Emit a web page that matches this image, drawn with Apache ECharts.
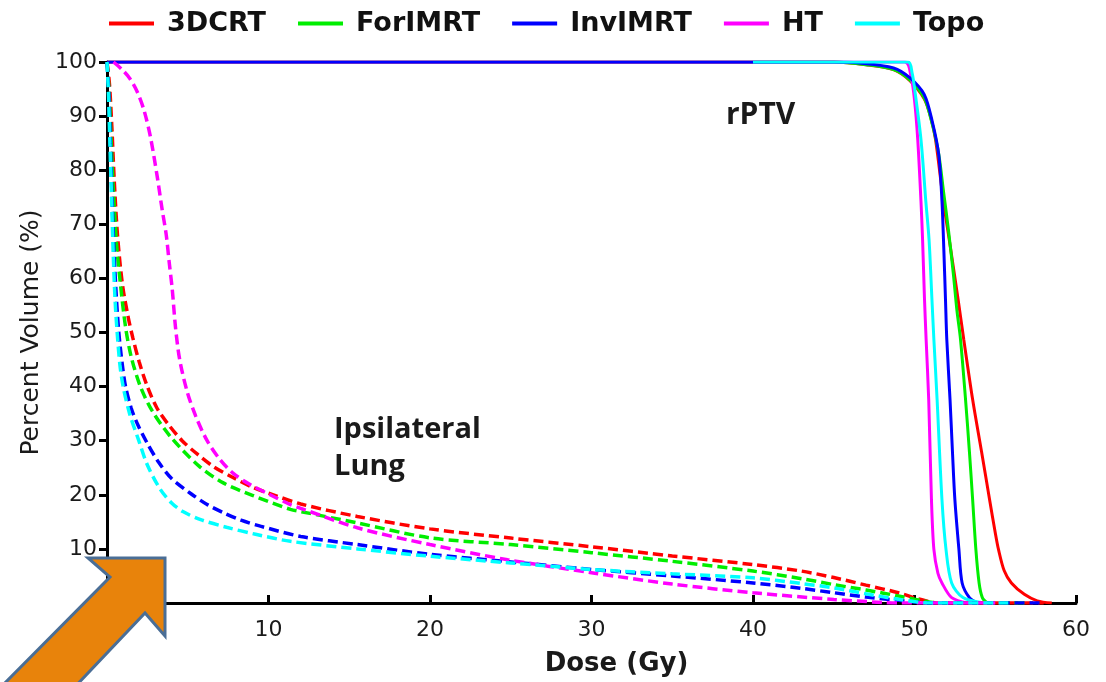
<!DOCTYPE html>
<html>
<head>
<meta charset="utf-8">
<script src="https://cdn.jsdelivr.net/npm/echarts@6/dist/echarts.min.js"></script>
<style>
  html, body { margin: 0; padding: 0; background: #ffffff; }
  #chart { width: 1106px; height: 682px; }
</style>
</head>
<body>
<div id="chart"></div>
<script>
// Treatment plans and their line colours
const plans = ['3DCRT', 'ForIMRT', 'InvIMRT', 'HT', 'Topo'];
const planColors = ['#ff0000', '#00ee00', '#0000ff', '#ff00ff', '#00ffff'];

// Axis ticks
const doseTicks = [0, 10, 20, 30, 40, 50, 60];
const volumeTicks = [0, 10, 20, 30, 40, 50, 60, 70, 80, 90, 100];

// Cumulative DVH of the rPTV: [dose (Gy), volume (%)]
const ptv3DCRT = [[0, 100], [45, 100], [47, 99.5], [48.7, 98.6], [49.7, 96.6], [50.6, 93.2], [51.0, 89.8],
  [51.3, 85.7], [51.8, 74], [52.15, 67.2], [52.7, 56.1], [53.05, 48.7], [53.6, 37.6], [54.15, 28],
  [54.65, 19.1], [55.0, 13], [55.2, 9.9], [55.55, 6], [56.0, 3.7], [56.8, 1.6], [57.6, 0.4], [58.5, 0]];
const ptvForIMRT = [[0, 100], [45, 100], [47, 99.5], [48.7, 98.6], [49.7, 96.7], [50.6, 93.4], [51.1, 88.5],
  [51.5, 83], [51.8, 76], [52.1, 69], [52.4, 61], [52.63, 54], [52.85, 48.7], [53.15, 38], [53.4, 28],
  [53.6, 19.1], [53.8, 9.9], [54.0, 3.7], [54.2, 1.0], [54.5, 0]];
const ptvInvIMRT = [[0, 100], [45, 100], [46.6, 99.8], [48.7, 98.9], [49.7, 97.1], [50.6, 94], [51.1, 89],
  [51.5, 82.9], [51.7, 74.3], [51.82, 65], [51.92, 56], [52.0, 48.7], [52.2, 37.6], [52.35, 28],
  [52.5, 19.1], [52.75, 9.9], [52.95, 3.7], [53.4, 1.0], [53.9, 0]];
const ptvHT = [[0, 100], [49.4, 100], [49.8, 97], [50.0, 93], [50.2, 85.7], [50.4, 74.3], [50.5, 67.2],
  [50.62, 56.1], [50.72, 48.7], [50.88, 37.6], [51.05, 19.1], [51.2, 9.9], [51.45, 5.5], [51.7, 3.7],
  [52.3, 1.0], [53.3, 0]];
const ptvTopo = [[40, 100], [49.6, 100], [49.85, 98], [50.0, 95.2], [50.4, 85.7], [50.7, 74.3], [50.9, 67.2],
  [51.08, 56.1], [51.2, 48.7], [51.4, 37.6], [51.7, 19.1], [51.95, 9.9], [52.3, 3.7], [53.0, 1.0], [54.3, 0]];

// Cumulative DVH of the ipsilateral lung: [dose (Gy), volume (%)]
const lung3DCRT = [[0, 100], [0.15, 96], [0.3, 88], [0.45, 78], [0.65, 68], [0.95, 59], [1.3, 53],
  [1.6, 49], [2.0, 44.5], [2.5, 40], [3.1, 36], [3.8, 33], [4.65, 30], [5.6, 27.5], [6.6, 25.2],
  [7.8, 23.2], [9.0, 21.4], [10.3, 20], [12, 18.3], [15.5, 16.0], [20, 13.7], [25, 12.0], [30, 10.4],
  [35, 8.7], [40, 7.1], [43, 5.9], [45, 4.7], [47, 3.3], [49, 1.9], [50.2, 0.8], [51.5, 0], [58, 0]];
const lungForIMRT = [[0, 100], [0.12, 95], [0.25, 86], [0.4, 76], [0.6, 66], [0.83, 59], [1.15, 51],
  [1.5, 45.5], [2.07, 40], [2.8, 35.5], [4.0, 30.5], [5.7, 25.3], [7.2, 22.2], [9.0, 19.9], [11.36, 17.3],
  [12, 16.9], [15.5, 14.8], [20, 12.05], [25, 10.8], [30, 9.3], [35, 7.7], [40, 5.9], [43, 4.5],
  [45, 3.4], [47, 2.4], [49, 1.3], [50.5, 0.4], [51.5, 0], [57, 0]];
const lungInvIMRT = [[0, 100], [0.1, 95], [0.2, 86], [0.3, 76], [0.42, 66], [0.55, 58], [0.73, 50],
  [0.95, 44], [1.15, 40], [1.5, 36], [1.9, 33], [2.5, 29.5], [3.2, 26], [4.0, 23], [5.2, 20.2],
  [6.2, 18.2], [7.2, 16.7], [8.3, 15.3], [9.5, 14.2], [12, 12.3], [15.5, 10.8], [20, 9.0], [25, 7.6],
  [30, 6.2], [35, 5.0], [40, 3.7], [43, 2.7], [45, 1.9], [47, 1.1], [49, 0.5], [51, 0], [58, 0]];
const lungHT = [[0.4, 100], [0.9, 98.7], [1.4, 97], [1.87, 94.5], [2.3, 91], [2.7, 86], [3.1, 79],
  [3.4, 73], [3.67, 68], [3.85, 63], [4.04, 58], [4.24, 51], [4.5, 45], [4.97, 39], [5.5, 34.5],
  [6.2, 30], [7.0, 26.5], [7.8, 24], [8.8, 22], [10.1, 20], [11.36, 18.2], [12, 17.5], [15.5, 13.9],
  [20, 10.8], [24.8, 8.0], [30, 5.6], [35, 3.5], [40, 1.9], [45, 0.65], [48, 0.1], [49, 0], [55, 0]];
const lungTopo = [[0, 100], [0.08, 95], [0.18, 85], [0.28, 75], [0.38, 65], [0.5, 56], [0.63, 50],
  [0.8, 44], [1.0, 40], [1.4, 35], [1.97, 30], [2.5, 25.5], [3.3, 21], [4.0, 18.5], [4.7, 16.9],
  [5.8, 15.4], [7.4, 14.0], [9.2, 12.7], [11.36, 11.4], [15.5, 10.0], [20, 8.65], [25, 7.4], [30, 6.2],
  [35, 5.4], [40, 4.65], [43, 3.6], [45, 2.8], [47, 1.7], [49, 0.7], [51, 0], [56, 0]];

const ptvSets = { '3DCRT': ptv3DCRT, 'ForIMRT': ptvForIMRT, 'InvIMRT': ptvInvIMRT, 'HT': ptvHT, 'Topo': ptvTopo };
const lungSets = { '3DCRT': lung3DCRT, 'ForIMRT': lungForIMRT, 'InvIMRT': lungInvIMRT, 'HT': lungHT, 'Topo': lungTopo };

const colorOf = name => planColors[plans.indexOf(name)];

// Drawing order of the solid rPTV curves (later ones sit on top)
const ptvOrder = ['3DCRT', 'ForIMRT', 'HT', 'InvIMRT', 'Topo'];

const series = [];
ptvOrder.forEach(name => {
  series.push({
    name: name,
    type: 'line',
    data: ptvSets[name],
    showSymbol: false,
    smooth: 0.3,
    color: colorOf(name),
    lineStyle: { width: 3, color: colorOf(name), type: 'solid' },
    z: 3
  });
});
plans.forEach(name => {
  series.push({
    name: name,
    type: 'line',
    data: lungSets[name],
    showSymbol: false,
    smooth: 0.3,
    color: colorOf(name),
    lineStyle: { width: 3.5, color: colorOf(name), type: [10, 5] },
    z: 4
  });
});

const chart = echarts.init(document.getElementById('chart'), null, { renderer: 'canvas' });

const tickFont = { fontFamily: 'DejaVu Sans', fontSize: 22, color: '#1a1a1a' };

chart.setOption({
  animation: false,
  backgroundColor: '#ffffff',
  legend: {
    data: plans.map((name, i) => ({ name: name, itemStyle: { color: planColors[i] } })),
    left: 104,
    top: 5,
    icon: 'rect',
    itemWidth: 45,
    itemHeight: 4,
    itemGap: 32,
    selectedMode: false,
    textStyle: { fontFamily: 'DejaVu Sans', fontWeight: 'bold', fontSize: 27, color: '#111', padding: [0, 0, 0, 8] }
  },
  grid: { left: 107, right: 30, top: 62, bottom: 78, containLabel: false },
  xAxis: {
    type: 'value',
    min: doseTicks[0],
    max: doseTicks[doseTicks.length - 1],
    interval: 10,
    name: 'Dose (Gy)',
    nameLocation: 'middle',
    nameGap: 48,
    nameTextStyle: { fontFamily: 'DejaVu Sans', fontWeight: 'bold', fontSize: 26, color: '#1a1a1a', padding: [0, 0, 0, 50] },
    axisLine: { show: true, onZero: false, lineStyle: { color: '#000', width: 3 } },
    axisTick: { show: true, inside: true, length: 8, lineStyle: { color: '#000', width: 3 } },
    axisLabel: Object.assign({ margin: 16, formatter: v => (v === 0 ? '' : String(v)) }, tickFont),
    splitLine: { show: false }
  },
  yAxis: {
    type: 'value',
    min: volumeTicks[0],
    max: volumeTicks[volumeTicks.length - 1],
    interval: 10,
    name: 'Percent Volume (%)',
    nameLocation: 'middle',
    nameGap: 54,
    nameTextStyle: { fontFamily: 'DejaVu Sans', fontSize: 25, color: '#1a1a1a' },
    axisLine: { show: true, onZero: false, lineStyle: { color: '#000', width: 3 } },
    axisTick: { show: true, inside: false, length: 8, lineStyle: { color: '#000', width: 3 } },
    axisLabel: Object.assign({ margin: 10, formatter: v => (v === 0 ? '' : String(v)) }, tickFont),
    splitLine: { show: false }
  },
  series: series,
  graphic: [
    {
      type: 'text',
      left: 726,
      top: 100,
      z: 10,
      style: { text: 'rPTV', font: 'bold 30px "Open Sans"', fill: '#1a1a1a' }
    },
    {
      type: 'text',
      left: 334,
      top: 411,
      z: 10,
      style: { text: 'Ipsilateral\nLung', font: 'bold 29px "Open Sans"', lineHeight: 37, fill: '#1a1a1a' }
    },
    {
      // orange arrow pointing at the low-dose region
      type: 'polygon',
      z: 20,
      shape: { points: [[88, 558], [165, 558], [165, 636], [145, 613], [70, 692], [-6, 694], [110, 577]] },
      style: { fill: '#e8830b', stroke: '#4a6e96', lineWidth: 3, lineJoin: 'miter' }
    }
  ]
});
</script>
</body>
</html>
